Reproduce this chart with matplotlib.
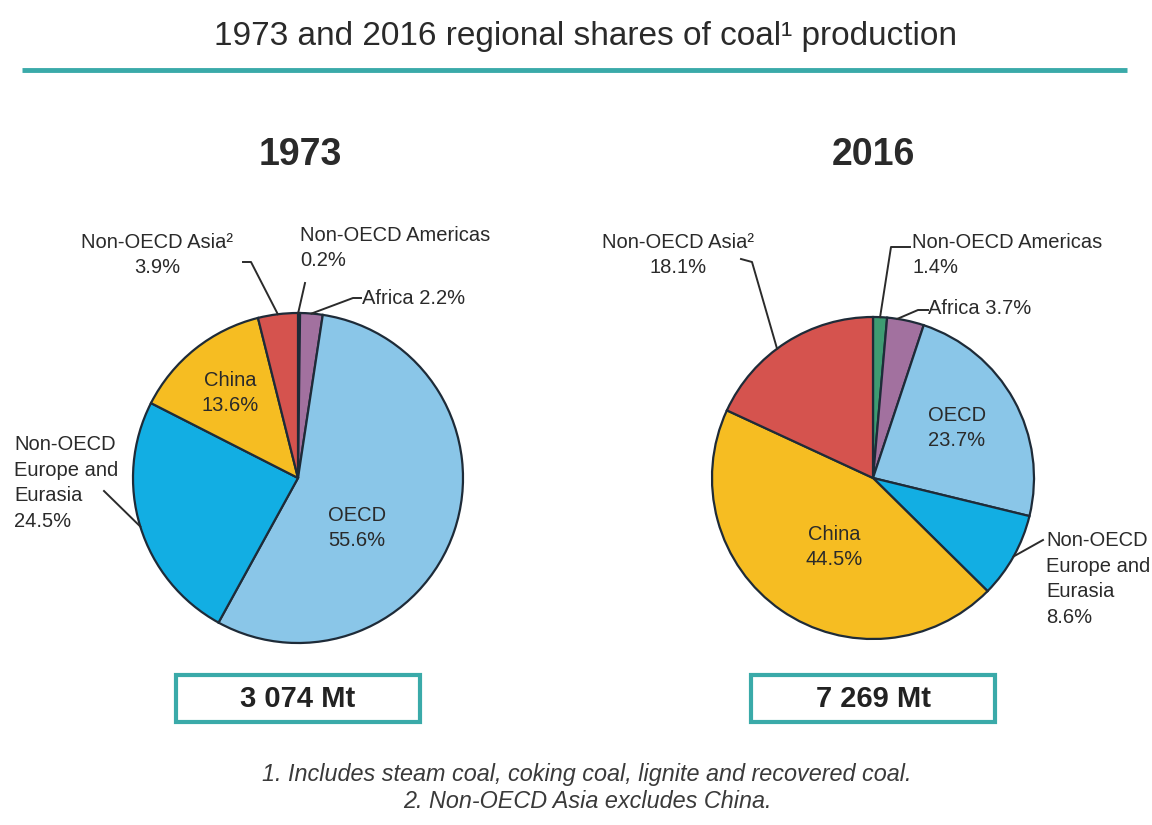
import numpy as np
import matplotlib
matplotlib.use("Agg")
import matplotlib.pyplot as plt
from matplotlib.patches import Rectangle

# ---------------- data ----------------
regions = ["Non-OECD Americas", "Africa", "OECD", "Non-OECD Europe and Eurasia", "China", "Non-OECD Asia"]
shares_1973 = [0.2, 2.2, 55.6, 24.5, 13.6, 3.9]
shares_2016 = [1.4, 3.7, 23.7, 8.6, 44.5, 18.1]
totals = ["3 074 Mt", "7 269 Mt"]
years = ["1973", "2016"]
colors = ["#3E9B72", "#A2719F", "#8AC6E8", "#12AEE3", "#F6BD22", "#D5534E"]

FONT = ["Liberation Sans", "DejaVu Sans"]
plt.rcParams["font.family"] = FONT
TXT = "#2a2a2a"
TEAL = "#3AAAA9"

W, H = 1152, 825
fig = plt.figure(figsize=(W / 100, H / 100), dpi=100)
fig.patch.set_facecolor("white")
over = fig.add_axes([0, 0, 1, 1])
over.set_xlim(0, W)
over.set_ylim(H, 0)
over.axis("off")
over.set_zorder(10)
over.patch.set_visible(False)


def fx(x):
    return x / W


def fy(y):
    return 1 - y / H


# title + rule
over.text(585, 36, "1973 and 2016 regional shares of coal\u00b9 production", ha="center", va="center",
          fontsize=24, color=TXT)
over.plot([22, 1127], [70, 70], color=TEAL, lw=3.5, solid_capstyle="butt")


def make_pie(cx, cy, r, shares):
    ax = fig.add_axes([fx(cx - r), fy(cy + r), 2 * r / W, 2 * r / H])
    ax.pie(shares, colors=colors, startangle=90, counterclock=False, radius=1,
           wedgeprops=dict(edgecolor="#1E2B38", linewidth=1.6))
    ax.set_xlim(-1, 1)
    ax.set_ylim(-1, 1)
    ax.set_aspect("auto")
    ax.axis("off")
    cum = np.cumsum([0] + list(shares))
    tot = cum[-1]
    mids = [90 - (cum[i] + shares[i] / 2) / tot * 360 for i in range(len(shares))]
    return ax, mids


def leader(ax, ang, pts, frac=1.0):
    a = np.deg2rad(ang)
    end = ax.transData.transform((frac * np.cos(a), frac * np.sin(a)))
    ex, ey = over.transData.inverted().transform(end)
    xs = [p[0] for p in pts] + [ex]
    ys = [p[1] for p in pts] + [ey]
    over.plot(xs, ys, color="#2b2b2b", lw=1.4, solid_joinstyle="round", zorder=5)


lab = dict(fontsize=14.5, color=TXT, linespacing=1.45)

# ---------------- 1973 ----------------
ax1, m1 = make_pie(298, 478, 165, shares_1973)
over.text(300, 155, years[0], ha="center", va="center", fontsize=27, fontweight="bold", color=TXT)

over.text(157, 255, f"Non-OECD Asia\u00b2\n{shares_1973[5]}%", ha="center", va="center", **lab)
leader(ax1, m1[5], [(243, 262), (251, 262)])
over.text(300, 248, f"Non-OECD Americas\n{shares_1973[0]}%", ha="left", va="center", **lab)
leader(ax1, m1[0] + 0.3, [(305, 283)])
over.text(362, 299, f"Africa {shares_1973[1]}%", ha="left", va="center", **lab)
leader(ax1, m1[1], [(361, 298), (353, 298)])
over.text(14, 483, f"Non-OECD\nEurope and\nEurasia\n{shares_1973[3]}%", ha="left", va="center", **lab)
leader(ax1, m1[3], [(104, 491)])
over.text(230, 393, f"China\n{shares_1973[4]}%", ha="center", va="center", **lab)
over.text(357, 528, f"OECD\n{shares_1973[2]}%", ha="center", va="center", **lab)

# ---------------- 2016 ----------------
ax2, m2 = make_pie(873, 478, 161, shares_2016)
over.text(873, 155, years[1], ha="center", va="center", fontsize=27, fontweight="bold", color=TXT)

over.text(678, 255, f"Non-OECD Asia\u00b2\n{shares_2016[5]}%", ha="center", va="center", **lab)
leader(ax2, m2[5] + 4, [(741, 259), (752, 262)])
over.text(912, 255, f"Non-OECD Americas\n{shares_2016[0]}%", ha="left", va="center", **lab)
leader(ax2, m2[0], [(910, 247), (891, 247)])
over.text(928, 309, f"Africa {shares_2016[1]}%", ha="left", va="center", **lab)
leader(ax2, m2[1] + 3, [(928, 310), (918, 310)])
over.text(1046, 579, f"Non-OECD\nEurope and\nEurasia\n{shares_2016[3]}%", ha="left", va="center", **lab)
leader(ax2, m2[3], [(1043, 540)])
over.text(834, 547, f"China\n{shares_2016[4]}%", ha="center", va="center", **lab)
over.text(957, 428, f"OECD\n{shares_2016[2]}%", ha="center", va="center", **lab)

# ---------------- total boxes ----------------
for cx, t in zip([298, 873], totals):
    over.add_patch(Rectangle((cx - 122, 675), 244, 47, fill=False, edgecolor=TEAL, lw=3))
    over.text(cx, 699, t, ha="center", va="center", fontsize=21, fontweight="bold", color="#222222")

# ---------------- footnotes ----------------
over.text(587, 775, "1. Includes steam coal, coking coal, lignite and recovered coal.", ha="center",
          va="center", fontsize=16.8, style="italic", color="#3a3a3a")
over.text(587, 802, "2. Non-OECD Asia excludes China.", ha="center", va="center", fontsize=16.8,
          style="italic", color="#3a3a3a")

fig.savefig("out.png", dpi=100, facecolor="white")
